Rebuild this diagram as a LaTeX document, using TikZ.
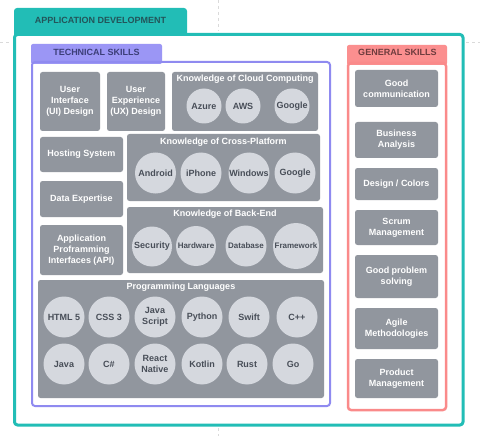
\documentclass[tikz,border=0pt]{standalone}
\usepackage{fontspec}
\setmainfont{Liberation Sans}
\usetikzlibrary{positioning}
\definecolor{appteal}{RGB}{34,189,182}
\definecolor{apptext}{RGB}{35,85,90}
\definecolor{techline}{RGB}{143,138,240}
\definecolor{techtab}{RGB}{155,150,245}
\definecolor{techtext}{RGB}{60,62,120}
\definecolor{genline}{RGB}{250,138,138}
\definecolor{gentab}{RGB}{251,143,143}
\definecolor{gentext}{RGB}{110,60,62}
\definecolor{boxgray}{RGB}{145,150,158}
\definecolor{chipgray}{RGB}{213,216,222}
\definecolor{chiptext}{RGB}{72,78,88}
\definecolor{guidegray}{RGB}{218,218,218}
\begin{document}
\begin{tikzpicture}[x=1pt, y=-1pt, line join=round, font=\bfseries\fontsize{9}{10.7}\selectfont,
	gbox/.style={fill=boxgray, rounded corners=2.5pt, text=white, align=center, inner sep=1pt},
	chip/.style={circle, fill=chipgray, text=chiptext, align=center, inner sep=0pt, minimum size=#1},
	chip/.default=41pt,
	gtitle/.style={text=white, inner sep=0pt}]
	\useasboundingbox (0,0) rectangle (480,436);
	\draw[guidegray, dashed] (218,0)--(218,31) (0,42)--(11,42) (466,42)--(480,42) (218,428)--(218,436);
	\fill[appteal, rounded corners=3pt] (14,8) rectangle (187,38);
	\draw[appteal, line width=3pt, fill=white, rounded corners=3pt] (14.5,34.5) rectangle (463,425);
	\node[text=apptext] (appT) at (100.5,20.5) {APPLICATION DEVELOPMENT};
	\fill[techtab, rounded corners=2pt] (31,44) rectangle (162,64);
	\draw[techline, line width=2pt, rounded corners=3pt] (32,62) rectangle (330,406);
	\node[text=techtext] (techT) at (96.5,52) {TECHNICAL SKILLS};
	\fill[gentab, rounded corners=2pt] (347,45) rectangle (447,65);
	\draw[genline, line width=2.5pt, rounded corners=3pt] (348,63) rectangle (446,410);
	\node[text=gentext] (genT) at (397.5,52) {GENERAL SKILLS};
	\node[gbox, minimum width=60pt, minimum height=59pt] (ui) at (70,101.5) {User\\Interface\\(UI) Design};
	\node[gbox, minimum width=58pt, minimum height=59pt] (ux) at (136,101.5) {User\\Experience\\(UX) Design};
	\node[gbox, minimum width=83pt, minimum height=35pt] (host) at (81.5,154.5) {Hosting System};
	\node[gbox, minimum width=83pt, minimum height=36pt] (data) at (81.5,199) {Data Expertise};
	\node[gbox, minimum width=83pt, minimum height=50pt] (api) at (81.5,250) {Application\\Proframming\\Interfaces (API)};
	\node[gbox, minimum width=146pt, minimum height=59pt] (cloud) at (245,101.5) {};
	\node[gbox, minimum width=193pt, minimum height=67pt] (cross) at (223.5,167.5) {};
	\node[gbox, minimum width=196pt, minimum height=66pt] (back) at (225,240) {};
	\node[gbox, minimum width=286pt, minimum height=118pt] (prog) at (181,339) {};
	\node[gtitle, below=3pt of cloud.north] (cloudT) {Knowledge of Cloud Computing};
	\node[gtitle, below=4pt of cross.north] (crossT) {Knowledge of Cross-Platform};
	\node[gtitle, below=3pt of back.north] (backT) {Knowledge of Back-End};
	\node[gtitle, below=3pt of prog.north] (progT) {Programming Languages};
	\foreach \n/\x/\t in {azure/204/Azure, aws/243/AWS, gcloud/292/Google}
	\node[chip=35pt] (\n) at (\x,106) {\t};
	\foreach \n/\x/\t in {android/155.5/Android, iphone/201/iPhone, windows/249/Windows, gplat/295/Google}
	\node[chip] (\n) at (\x,173) {\t};
	\node[chip=40pt] (security) at (152,246.5) {Security};
	\foreach \n/\x/\s/\t in {hardware/196/40pt/Hardware, database/246/41pt/Database, framework/296/46pt/Framework}
	\node[chip=\s, font=\bfseries\fontsize{8}{9.5}\selectfont] (\n) at (\x,246) {\t};
	\foreach \n/\x/\t in {html/64/{HTML 5}, css/109/{CSS 3}, js/155/{Java\\Script}, python/202/Python, swift/249/Swift, cpp/297/C++}
	\node[chip] (\n) at (\x,317) {\t};
	\foreach \n/\x/\t in {java/64/Java, csharp/109/C\#, react/155/{React\\Native}, kotlin/202/Kotlin, rust/247/Rust, go/293/Go}
	\node[chip] (\n) at (\x,364) {\t};
	\foreach \n/\y/\h/\t in {comm/88.5/37pt/{Good\\communication}, business/140/36pt/{Business\\Analysis}, design/184/32pt/{Design / Colors}, scrum/227.5/35pt/{Scrum\\Management}, problem/276.5/43pt/{Good problem\\solving}, agile/328.5/41pt/{Agile\\Methodologies}, product/378.5/39pt/{Product\\Management}}
	\node[gbox, minimum width=83pt, minimum height=\h] (\n) at (396.5,\y) {\t};
\end{tikzpicture}
\end{document}
